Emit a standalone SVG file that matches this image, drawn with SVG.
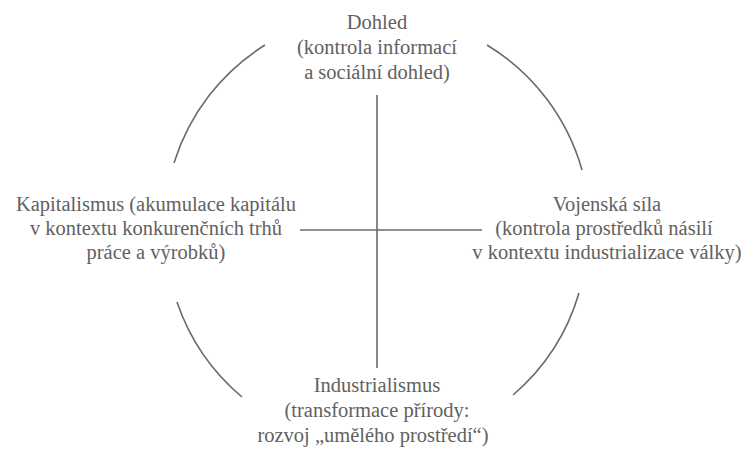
<svg xmlns="http://www.w3.org/2000/svg" width="747" height="454" viewBox="0 0 747 454">
<style>
.c{fill:none;stroke:#6a6a6a;stroke-width:1.6}
.t{font-family:"Liberation Serif","DejaVu Serif",serif;font-size:20.5px;fill:#616161;text-anchor:middle}
</style>
<rect width="747" height="454" fill="#ffffff"/>
<g id="connectors" class="c">
<line x1="377" y1="95" x2="377" y2="368"/>
<line x1="300" y1="230" x2="482" y2="230"/>
<path d="M265,45 A214,214 0 0 0 174,163"/>
<path d="M487,45 A214,214 0 0 1 582,170"/>
<path d="M177,302 A214,214 0 0 0 242,397"/>
<path d="M579,293 A214,214 0 0 1 513,395"/>
</g>
<g id="dohled" class="t">
<text x="377" y="29">Dohled</text>
<text x="377" y="54">(kontrola informací</text>
<text x="377" y="79">a sociální dohled)</text>
</g>
<g id="kapitalismus" class="t">
<text x="156" y="211">Kapitalismus (akumulace kapitálu</text>
<text x="156" y="235">v kontextu konkurenčních trhů</text>
<text x="156" y="259">práce a výrobků)</text>
</g>
<g id="vojenska-sila" class="t">
<text x="607" y="211">Vojenská síla</text>
<text x="604" y="235">(kontrola prostředků násilí</text>
<text x="607" y="259">v kontextu industrializace války)</text>
</g>
<g id="industrialismus" class="t">
<text x="377" y="392">Industrialismus</text>
<text x="377" y="417">(transformace přírody:</text>
<text x="373" y="442">rozvoj „umělého prostředí“)</text>
</g>
</svg>
